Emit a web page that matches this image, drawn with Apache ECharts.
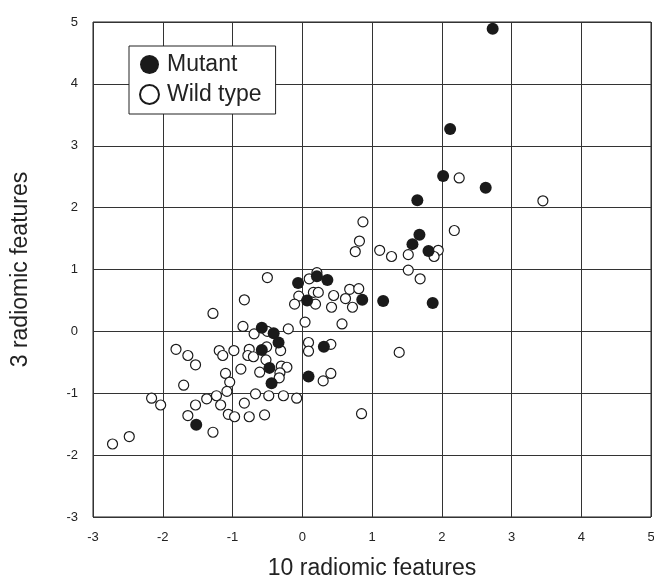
<!DOCTYPE html>
<html lang="en">
<head>
    <meta charset="UTF-8">
    <title>Radiomic features</title>
    <script src="https://cdn.jsdelivr.net/npm/echarts@6/dist/echarts.min.js"></script>
</head>
<body style="margin: 0">
<div id="scatter" style="width: 654px;height: 583px"></div>
</body>

<script>

    // x = 10 radiomic features, y = 3 radiomic features
    let mutantPoints = [
        [2.73, 4.89], [2.12, 3.27], [2.02, 2.51], [2.63, 2.32], [1.65, 2.12],
        [1.68, 1.56], [1.58, 1.41], [1.81, 1.30], [1.87, 0.46], [1.16, 0.49],
        [0.86, 0.51], [-0.06, 0.78], [0.21, 0.89], [0.36, 0.83], [0.07, 0.50],
        [-0.58, 0.06], [-0.41, -0.03], [-0.34, -0.18], [-0.58, -0.30], [-0.47, -0.59],
        [-0.44, -0.84], [0.09, -0.73], [0.31, -0.25], [-1.52, -1.51]
    ]

    let wildTypePoints = [
        [2.25, 2.48], [3.45, 2.11], [2.18, 1.63], [0.87, 1.77], [0.82, 1.46],
        [0.76, 1.29], [1.11, 1.31], [1.28, 1.21], [1.52, 1.24], [1.95, 1.31],
        [1.89, 1.21], [1.52, 0.99], [1.69, 0.85], [0.68, 0.68], [0.81, 0.69],
        [0.62, 0.53], [0.72, 0.39], [0.57, 0.12], [1.39, -0.34], [0.85, -1.33],
        [-0.50, 0.87], [0.10, 0.85], [0.21, 0.95], [-0.83, 0.51], [-1.28, 0.29],
        [-0.05, 0.57], [-0.11, 0.44], [0.16, 0.63], [0.23, 0.63], [0.19, 0.44],
        [0.45, 0.58], [0.42, 0.39], [0.04, 0.15], [-0.85, 0.08], [-0.69, -0.04],
        [-0.20, 0.04], [-0.50, 0.00], [0.09, -0.18], [0.09, -0.32], [0.41, -0.21],
        [-1.81, -0.29], [-1.64, -0.39], [-1.53, -0.54], [-1.19, -0.31], [-1.14, -0.39],
        [-0.98, -0.31], [-0.76, -0.29], [-0.78, -0.39], [-0.70, -0.41], [-0.51, -0.25],
        [-0.31, -0.31], [-0.52, -0.46], [-0.88, -0.61], [-0.61, -0.66], [-0.30, -0.56],
        [-0.22, -0.58], [-0.32, -0.67], [-0.33, -0.75], [0.41, -0.68], [0.30, -0.80],
        [-1.10, -0.68], [-1.04, -0.82], [-1.70, -0.87], [-1.08, -0.97], [-1.23, -1.04],
        [-1.37, -1.09], [-2.16, -1.08], [-2.03, -1.19], [-1.53, -1.19], [-1.17, -1.19],
        [-0.83, -1.16], [-0.67, -1.01], [-0.48, -1.04], [-0.27, -1.04], [-0.08, -1.08],
        [-1.64, -1.36], [-1.06, -1.34], [-0.97, -1.38], [-0.76, -1.38], [-0.54, -1.35],
        [-1.28, -1.63], [-2.48, -1.70], [-2.72, -1.82]
    ]

    let seriesNames = ['Mutant', 'Wild type']

    let scatter = echarts.init(document.getElementById('scatter'));

    let font = 'Liberation Sans, Arial, sans-serif'

    let option = {
        animation: false,
        backgroundColor: '#fff',
        grid: {
            left: 93,
            right: 3,
            top: 22,
            bottom: 66,
            outerBoundsMode: 'none',
            show: true,
            borderColor: '#222',
            borderWidth: 1
        },
        legend: {
            data: seriesNames,
            orient: 'vertical',
            left: 129,
            top: 46,
            padding: [7, 14, 8, 10],
            itemGap: 7,
            itemWidth: 25,
            itemHeight: 19,
            backgroundColor: '#fff',
            borderColor: '#222',
            borderWidth: 1,
            textStyle: {
                fontFamily: font,
                fontSize: 23,
                color: '#222'
            }
        },
        xAxis: {
            type: 'value',
            min: -3,
            max: 5,
            interval: 1,
            name: '10 radiomic features',
            nameLocation: 'middle',
            nameGap: 40,
            nameTextStyle: {fontFamily: font, fontSize: 23, color: '#222'},
            axisLine: {show: false},
            axisTick: {show: false},
            axisLabel: {fontFamily: font, fontSize: 13, color: '#222', margin: 14},
            splitLine: {lineStyle: {color: '#333', width: 1}}
        },
        yAxis: {
            type: 'value',
            min: -3,
            max: 5,
            interval: 1,
            name: '3 radiomic features',
            nameLocation: 'middle',
            nameGap: 61,
            nameTextStyle: {fontFamily: font, fontSize: 23, color: '#222'},
            axisLine: {show: false},
            axisTick: {show: false},
            axisLabel: {fontFamily: font, fontSize: 13, color: '#222', margin: 15},
            splitLine: {lineStyle: {color: '#333', width: 1}}
        },
        series: [
            {
                name: 'Wild type',
                type: 'scatter',
                symbol: 'circle',
                symbolSize: 10,
                data: wildTypePoints,
                itemStyle: {color: '#fff', borderColor: '#1a1a1a', borderWidth: 1.2, opacity: 1}
            },
            {
                name: 'Mutant',
                type: 'scatter',
                symbol: 'circle',
                symbolSize: 12,
                data: mutantPoints,
                itemStyle: {color: '#1a1a1a', borderColor: '#1a1a1a', borderWidth: 0, opacity: 1}
            }
        ]
    };
    scatter.setOption(option);

</script>

</html>
